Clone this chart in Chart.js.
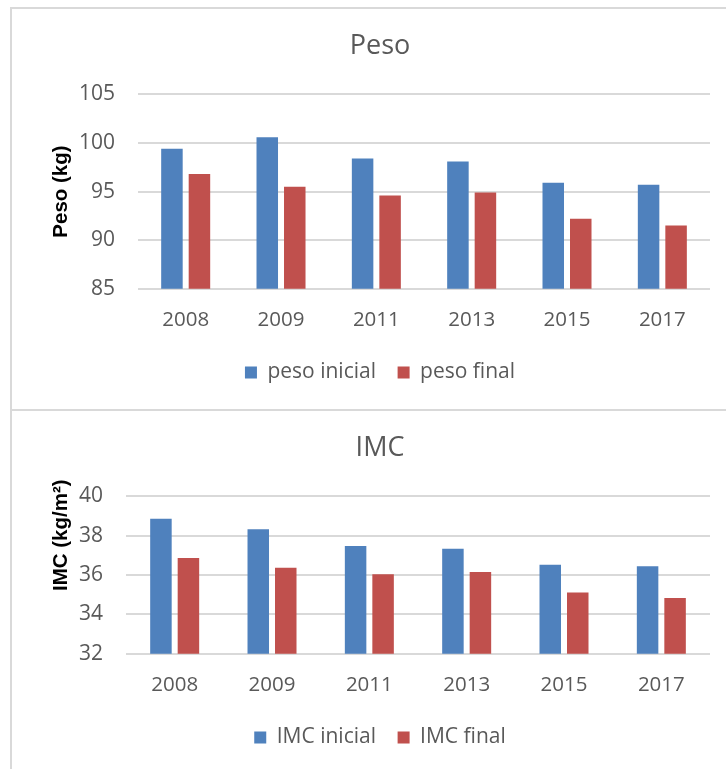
<!DOCTYPE html>
<html>
<head>
<meta charset="utf-8">
<script src="https://cdn.jsdelivr.net/npm/chart.js@4/dist/chart.umd.min.js"></script>
<style>
  html, body { margin: 0; padding: 0; background: #fff; overflow: hidden; width: 726px; height: 769px; }
  .panel { position: absolute; left: 10px; width: 714px; overflow: hidden; border-left: 2px solid #d9d9d9; border-top: 2px solid #d9d9d9; background: #fff; }
  #boxPeso { top: 7px; height: 400px; border-bottom: 2px solid #d9d9d9; }
  #boxImc { top: 409px; height: 360px; }
  canvas { display: block; }
</style>
</head>
<body>
<div class="panel" id="boxPeso"><canvas id="peso" width="736" height="400"></canvas></div>
<div class="panel" id="boxImc"><canvas id="imc" width="736" height="363"></canvas></div>
<script>
// Survey years
const years = ['2008', '2009', '2011', '2013', '2015', '2017'];

// Weight (kg)
const pesoInicial = [99.4, 100.6, 98.4, 98.1, 95.9, 95.7];
const pesoFinal   = [96.8, 95.5, 94.6, 94.9, 92.2, 91.5];

// BMI (kg/m²)
const imcInicial = [38.86, 38.33, 37.48, 37.34, 36.52, 36.45];
const imcFinal   = [36.87, 36.37, 36.04, 36.15, 35.11, 34.83];

// Axis ranges
const pesoAxis = { min: 85, max: 105, step: 5 };
const imcAxis  = { min: 32, max: 40, step: 2 };

const BLUE = '#4f81bd';
const RED = '#c0504d';
const GREY_TEXT = '#595959';
const GRID = '#d9d9d9';
const FONT = 'Open Sans';

function makeChart(id, cfg) {
  return new Chart(document.getElementById(id), {
    type: 'bar',
    data: {
      labels: years,
      datasets: [
        { label: cfg.labels[0], data: cfg.series[0], backgroundColor: BLUE },
        { label: cfg.labels[1], data: cfg.series[1], backgroundColor: RED }
      ]
    },
    options: {
      responsive: false,
      animation: false,
      devicePixelRatio: 1,
      categoryPercentage: cfg.catPct,
      barPercentage: 0.782,
      layout: { padding: { left: 0, right: 0, top: 0, bottom: 16 } },
      plugins: {
        title: {
          display: true,
          text: cfg.title,
          color: GREY_TEXT,
          font: { family: FONT, size: 27, weight: 'normal' },
          padding: { top: 21, bottom: 32 }
        },
        legend: {
          position: 'bottom',
          labels: {
            color: GREY_TEXT,
            font: { family: FONT, size: 21 },
            boxWidth: 12,
            boxHeight: 12,
            padding: 10.7
          }
        },
        tooltip: { enabled: false }
      },
      scales: {
        x: {
          grid: { display: false, drawTicks: false },
          border: { display: false },
          ticks: { color: GREY_TEXT, font: { family: FONT, size: 20.5 }, padding: 19 }
        },
        y: {
          min: cfg.axis.min,
          max: cfg.axis.max,
          ticks: { stepSize: cfg.axis.step, color: GREY_TEXT, font: { family: FONT, size: 21 }, padding: 23 },
          grid: { color: GRID, lineWidth: 2, drawTicks: false },
          border: { display: false },
          title: {
            display: true,
            text: cfg.yTitle,
            color: '#000',
            font: { family: 'Liberation Sans', size: 20.5, weight: 'bold' },
            padding: { top: 36.7, bottom: -17.3 }
          }
        },
        // blank right-hand margin so the plot stops short of the frame edge
        margin: {
          position: 'right',
          grid: { display: false, drawTicks: false },
          border: { display: false },
          ticks: { display: false },
          afterFit: (scale) => { scale.width = 38; }
        }
      }
    }
  });
}

makeChart('peso', {
  title: 'Peso',
  yTitle: 'Peso (kg)',
  // trailing spaces widen the gap before the second legend entry
  labels: ['peso inicial  ', 'peso final'],
  series: [pesoInicial, pesoFinal],
  axis: pesoAxis,
  catPct: 0.577
});

makeChart('imc', {
  title: 'IMC',
  // leading spaces lift the label toward the top of the axis
  yTitle: '              IMC (kg/m²)',
  labels: ['IMC inicial  ', 'IMC final'],
  series: [imcInicial, imcFinal],
  axis: imcAxis,
  catPct: 0.565
});
</script>
</body>
</html>
